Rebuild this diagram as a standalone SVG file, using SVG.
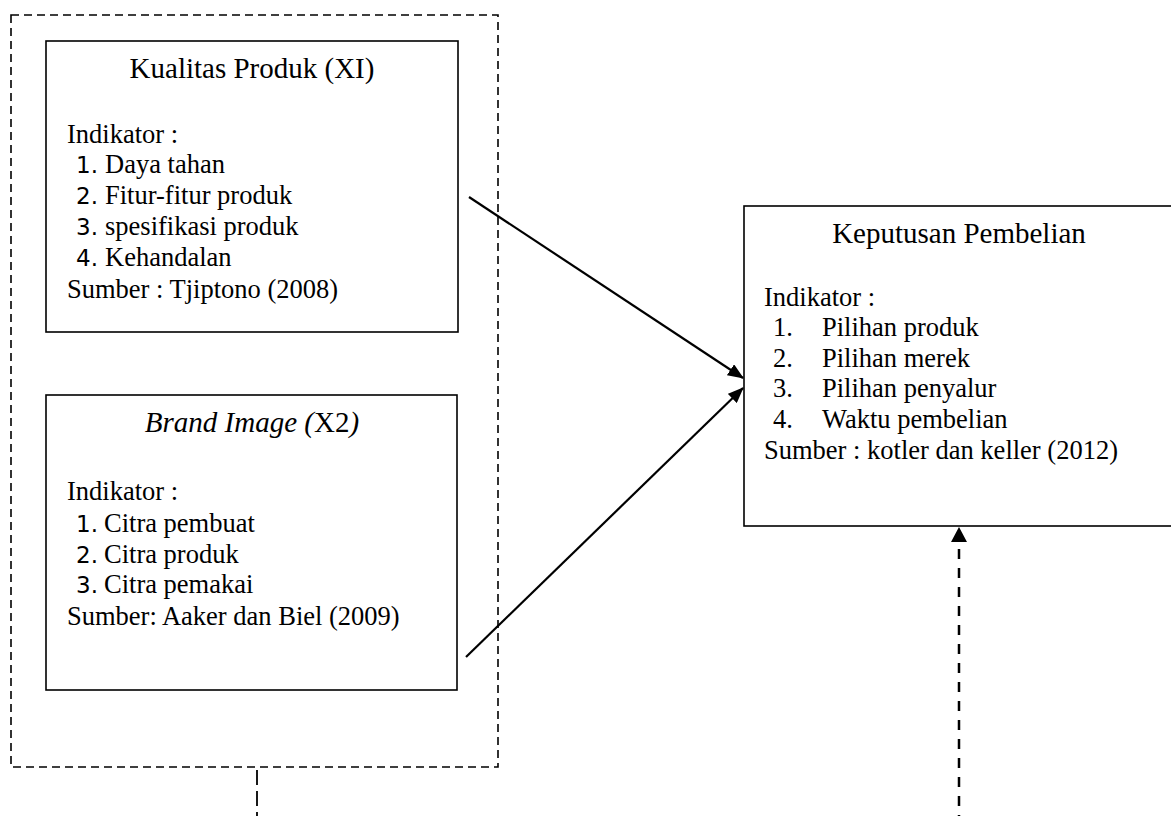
<svg xmlns="http://www.w3.org/2000/svg" width="1171" height="816" viewBox="0 0 1171 816">
<defs>
<style>
.box{fill:#fff;stroke:#000;stroke-width:1.6}
.t{font-family:"Liberation Serif","Times New Roman",serif;font-size:26.5px;fill:#000}
.title{font-family:"Liberation Serif","Times New Roman",serif;font-size:29px;fill:#000;text-anchor:middle}
.num{font-family:"DejaVu Sans",sans-serif;font-size:23px;fill:#000}
.dash{fill:none;stroke:#000;stroke-width:1.6;stroke-dasharray:8 5}
.arrow{stroke:#000;stroke-width:2.2;fill:none}
</style>
<marker id="ah" markerUnits="userSpaceOnUse" markerWidth="16" markerHeight="13" viewBox="0 0 16 13" refX="15" refY="6.5" orient="auto">
<path d="M0,0 L16,6.5 L0,13 z" fill="#000"/>
</marker>
<marker id="ah2" markerUnits="userSpaceOnUse" markerWidth="15" markerHeight="16" viewBox="0 0 15 16" refX="0" refY="8" orient="auto">
<path d="M0,0 L15,8 L0,16 z" fill="#000"/>
</marker>
</defs>
<rect width="1171" height="816" fill="#fff"/>

<g id="group-x">
<rect class="dash" x="11" y="15" width="487" height="752"/>
</g>

<g id="node-x1">
<rect class="box" x="46" y="41" width="412" height="291"/>
<text class="title" x="252" y="78">Kualitas Produk (XI)</text>
<text class="t" x="67" y="143">Indikator :</text>
<text class="num" x="76" y="173">1.</text><text class="t" x="105" y="173">Daya tahan</text>
<text class="num" x="76" y="204">2.</text><text class="t" x="105" y="204">Fitur-fitur produk</text>
<text class="num" x="76" y="235">3.</text><text class="t" x="105" y="235">spesifikasi produk</text>
<text class="num" x="76" y="266">4.</text><text class="t" x="105" y="266">Kehandalan</text>
<text class="t" x="67" y="298">Sumber : Tjiptono (2008)</text>
</g>

<g id="node-x2">
<rect class="box" x="46" y="395" width="411" height="295"/>
<text class="title" x="252" y="432"><tspan font-style="italic">Brand Image (</tspan>X2<tspan font-style="italic">)</tspan></text>
<text class="t" x="67" y="500">Indikator :</text>
<text class="num" x="76" y="532">1.</text><text class="t" x="104" y="532">Citra pembuat</text>
<text class="num" x="76" y="563">2.</text><text class="t" x="104" y="563">Citra produk</text>
<text class="num" x="76" y="593">3.</text><text class="t" x="104" y="593">Citra pemakai</text>
<text class="t" x="67" y="625">Sumber: Aaker dan Biel (2009)</text>
</g>

<g id="node-y">
<rect class="box" x="744" y="206" width="440" height="320"/>
<text class="title" x="959" y="243">Keputusan Pembelian</text>
<text class="t" x="764" y="306">Indikator :</text>
<text class="t" x="773" y="336">1.</text><text class="t" x="822" y="336">Pilihan produk</text>
<text class="t" x="773" y="367">2.</text><text class="t" x="822" y="367">Pilihan merek</text>
<text class="t" x="773" y="397">3.</text><text class="t" x="822" y="397">Pilihan penyalur</text>
<text class="t" x="773" y="428">4.</text><text class="t" x="822" y="428">Waktu pembelian</text>
<text class="t" x="764" y="459">Sumber : kotler dan keller (2012)</text>
</g>

<g id="connectors">
<line class="arrow" x1="469" y1="197" x2="743" y2="378" marker-end="url(#ah)"/>
<line class="arrow" x1="466" y1="657" x2="743" y2="388" marker-end="url(#ah)"/>
<line x1="257" y1="770" x2="257" y2="816" stroke="#000" stroke-width="1.8" stroke-dasharray="15 6"/>
<line x1="959" y1="816" x2="959" y2="542" stroke="#000" stroke-width="2.5" stroke-dasharray="10 9" stroke-dashoffset="9" marker-end="url(#ah2)"/>
</g>
</svg>
